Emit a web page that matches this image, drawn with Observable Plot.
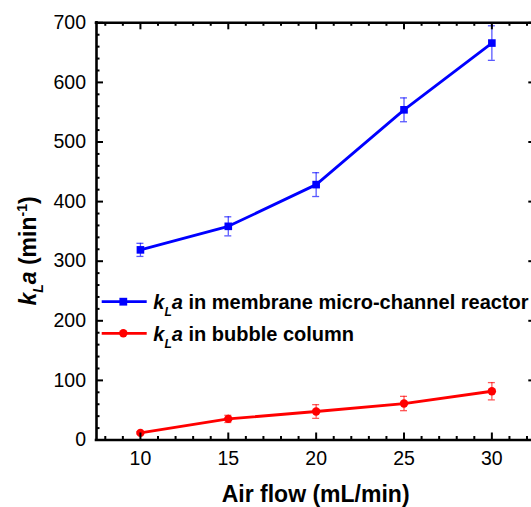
<!DOCTYPE html>
<html>
<head>
<meta charset="utf-8">
<script src="https://cdn.jsdelivr.net/npm/d3@7"></script>
<script src="https://cdn.jsdelivr.net/npm/@observablehq/plot@0.6"></script>
<style>
  html, body { margin: 0; padding: 0; background: #fff; }
  svg { display: block; }
</style>
</head>
<body>
<script>
// ---- data ----
const airFlow = [10, 15, 20, 25, 30];
const membraneKLa = [319, 358.5, 428.5, 554, 666];
const membraneErr = [11, 16, 20, 20, 29];
const bubbleKLa = [12, 35.4, 47.8, 61.2, 81.8];
const bubbleErr = [2, 6, 11.5, 12, 14.5];
const xMajorTicks = [10, 15, 20, 25, 30];
const yMajorTicks = [0, 100, 200, 300, 400, 500, 600, 700];
const xMinorTicks = [8, 9, 11, 12, 13, 14, 16, 17, 18, 19, 21, 22, 23, 24, 26, 27, 28, 29, 31, 32];
const yMinorTicks = [20, 40, 60, 80, 120, 140, 160, 180, 220, 240, 260, 280, 320, 340, 360, 380,
                     420, 440, 460, 480, 520, 540, 560, 580, 620, 640, 660, 680];
const xDomain = [7.5, 32.5];
const yDomain = [0, 700];
const seriesNames = ["membrane micro-channel reactor", "bubble column"];
const seriesColors = ["#0000ff", "#ff0000"];
const xTitle = "Air flow (mL/min)";

// ---- layout ----
const W = 531, H = 507;
const mL = 96, mT = 22.3, mB = 67.5, mR = -4.3;
const innerW = W - mL - mR, innerH = H - mT - mB;
const majorLen = 7, minorLen = 3.5;
const FONT = "'Liberation Sans', Arial, Helvetica, sans-serif";

const mem = airFlow.map((x, i) => ({x, y: membraneKLa[i], e: membraneErr[i]}));
const bub = airFlow.map((x, i) => ({x, y: bubbleKLa[i], e: bubbleErr[i]}));

function errorMarks(data, color) {
  const s = {stroke: color, strokeOpacity: 0.65, strokeWidth: 1.3};
  return [
    Plot.ruleX(data, {x: "x", y1: d => d.y - d.e, y2: d => d.y + d.e, ...s}),
    Plot.ruleY(data, {y: d => d.y + d.e, x1: "x", x2: "x", insetLeft: -3.5, insetRight: -3.5, ...s}),
    Plot.ruleY(data, {y: d => d.y - d.e, x1: "x", x2: "x", insetLeft: -3.5, insetRight: -3.5, ...s})
  ];
}

const chart = Plot.plot({
  width: W, height: H,
  marginLeft: mL, marginTop: mT, marginBottom: mB, marginRight: mR,
  x: {domain: xDomain},
  y: {domain: yDomain},
  style: {fontFamily: FONT, fontSize: "19px", background: "white", color: "black"},
  marks: [
    Plot.axisX({ticks: xMajorTicks, tickSize: 0, tickPadding: 11, fontSize: 19.5, label: null, tickFormat: d => d}),
    Plot.axisY({ticks: yMajorTicks, tickSize: 0, tickPadding: 10.5, fontSize: 19.5, label: null, tickFormat: d => d}),
    ...errorMarks(mem, seriesColors[0]),
    ...errorMarks(bub, seriesColors[1]),
    Plot.line(mem, {x: "x", y: "y", stroke: seriesColors[0], strokeWidth: 2.8}),
    Plot.line(bub, {x: "x", y: "y", stroke: seriesColors[1], strokeWidth: 2.8}),
    Plot.dot(mem, {x: "x", y: "y", symbol: "square", r: 4.3, fill: seriesColors[0]}),
    Plot.dot(bub, {x: "x", y: "y", symbol: "circle", r: 4.2, fill: seriesColors[1]}),
    // inward ticks: bottom (major+minor), top (major+minor), left (major+minor), right (major)
    Plot.ruleX(xMajorTicks, {x: d => d, insetTop: innerH - majorLen, stroke: "black", strokeWidth: 2}),
    Plot.ruleX(xMinorTicks, {x: d => d, insetTop: innerH - minorLen, stroke: "black", strokeWidth: 2}),
    Plot.ruleX(xMajorTicks, {x: d => d, insetBottom: innerH - majorLen, stroke: "black", strokeWidth: 2}),
    Plot.ruleX(xMinorTicks, {x: d => d, insetBottom: innerH - minorLen, stroke: "black", strokeWidth: 2}),
    Plot.ruleY(yMajorTicks, {y: d => d, insetRight: innerW - majorLen, stroke: "black", strokeWidth: 2}),
    Plot.ruleY(yMinorTicks, {y: d => d, insetRight: innerW - minorLen, stroke: "black", strokeWidth: 2}),
    Plot.ruleY(yMajorTicks, {y: d => d, insetLeft: innerW - majorLen, stroke: "black", strokeWidth: 2}),
    // frame
    Plot.ruleX(xDomain, {x: d => d, stroke: "black", strokeWidth: 2.6, strokeLinecap: "square"}),
    Plot.ruleY(yDomain, {y: d => d, stroke: "black", strokeWidth: 2.6, strokeLinecap: "square"})
  ]
});

const svg = d3.select(chart);

// x title
svg.append("text")
  .attr("x", mL + (W - mR - mL) / 2).attr("y", 502)
  .attr("text-anchor", "middle")
  .attr("font-family", FONT).attr("font-size", 23).attr("font-weight", "bold")
  .attr("fill", "black")
  .text(xTitle);

// y title: k_L a (min^-1)
const yt = svg.append("text")
  .attr("transform", "translate(36,251) rotate(-90)")
  .attr("text-anchor", "middle")
  .attr("font-family", FONT).attr("font-size", 23).attr("font-weight", "bold")
  .attr("fill", "black");
yt.append("tspan").attr("font-style", "italic").text("k");
yt.append("tspan").attr("font-style", "italic").attr("font-size", 14).attr("dy", 7).text("L");
yt.append("tspan").attr("font-style", "italic").attr("dy", -7).text("a");
yt.append("tspan").text(" (min");
yt.append("tspan").attr("font-size", 14).attr("dy", -9).text("-1");
yt.append("tspan").attr("dy", 9).text(")");

// legend
const legendRows = [
  {name: seriesNames[0], color: seriesColors[0], sym: "square", ly: 301.7},
  {name: seriesNames[1], color: seriesColors[1], sym: "circle", ly: 333.3}
];
const lg = svg.append("g");
legendRows.forEach(r => {
  lg.append("line").attr("x1", 101.7).attr("x2", 146.7).attr("y1", r.ly).attr("y2", r.ly)
    .attr("stroke", r.color).attr("stroke-width", 2.8);
  if (r.sym === "square") {
    lg.append("rect").attr("x", 123.3 - 3.9).attr("y", r.ly - 3.9).attr("width", 7.8).attr("height", 7.8).attr("fill", r.color);
  } else {
    lg.append("circle").attr("cx", 123.3).attr("cy", r.ly).attr("r", 4.2).attr("fill", r.color);
  }
  const t = lg.append("text").attr("x", 153.3).attr("y", r.ly + 7.6)
    .attr("text-anchor", "start")
    .attr("font-family", FONT).attr("font-size", 20).attr("font-weight", "bold").attr("fill", "black");
  t.append("tspan").attr("font-style", "italic").text("k");
  t.append("tspan").attr("font-style", "italic").attr("font-size", 12).attr("dy", 7).text("L");
  t.append("tspan").attr("font-style", "italic").attr("dy", -7).text("a");
  t.append("tspan").text(" in " + r.name);
});

document.body.append(chart);
</script>
</body>
</html>
